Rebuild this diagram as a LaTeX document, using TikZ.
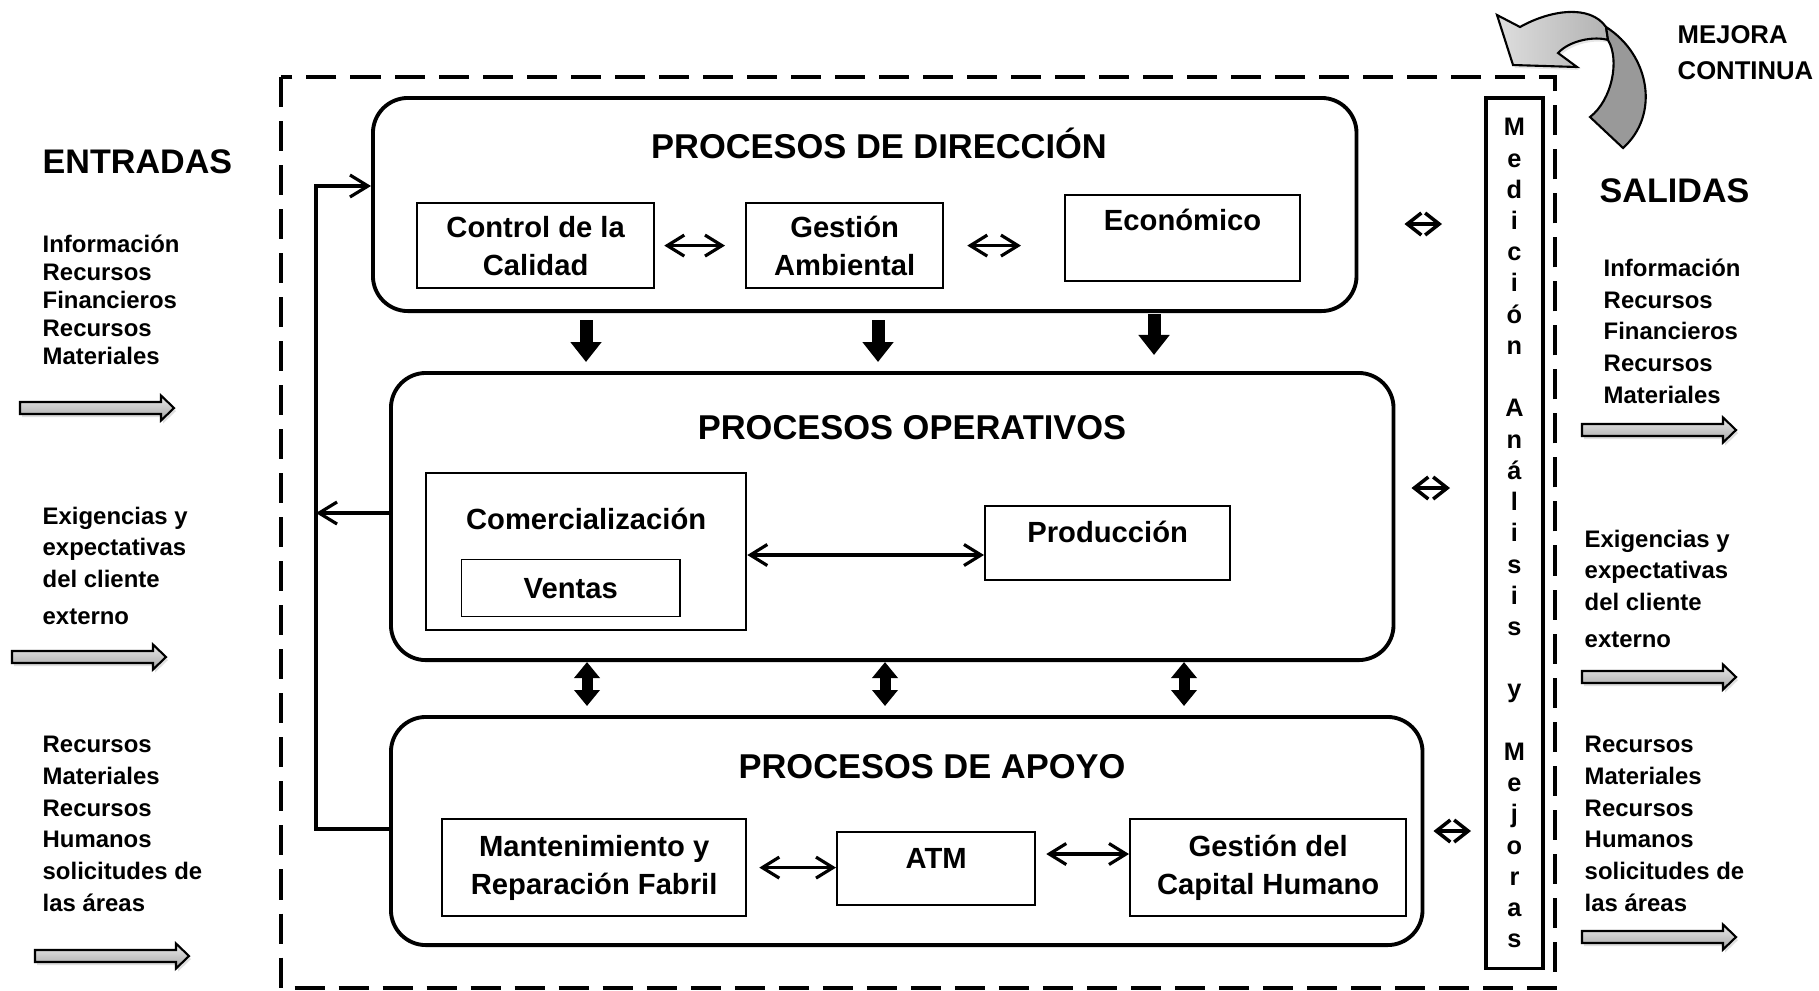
\documentclass[tikz,border=0pt]{standalone}
\usepackage{fontspec}
\setmainfont{Liberation Sans}
\usetikzlibrary{arrows.meta,calc,shadows}

\begin{document}
\begin{tikzpicture}[x=0.01cm, y=-0.01cm,
  proceso/.style={draw, line width=1.1pt, rounded corners=0.35cm, anchor=north west, inner sep=0pt},
  caja/.style={draw, line width=0.6pt, anchor=north west, align=center, inner sep=0pt,
    font=\fontsize{8.3}{10.8}\selectfont\bfseries},
  titulo/.style={anchor=base, inner sep=0pt, font=\fontsize{9.8}{11}\selectfont\bfseries},
  texto/.style={anchor=base, inner sep=0pt, font=\fontsize{8.3}{10.8}\selectfont\bfseries},
  encabezado/.style={anchor=base west, inner sep=0pt, align=left, font=\fontsize{9.7}{11}\selectfont\bfseries},
  lado/.style={anchor=base west, inner sep=0pt, align=left, font=\fontsize{6.8}{9}\selectfont\bfseries},
  flechita/.style={line width=0.9pt, {Straight Barb[length=0.17cm,width=0.21cm]}-{Straight Barb[length=0.17cm,width=0.21cm]}},
  lateral/.style={line width=1pt, {Straight Barb[length=0.14cm,width=0.22cm]}-{Straight Barb[length=0.14cm,width=0.22cm]}},
  retro/.style={line width=0.9pt, -{Straight Barb[length=0.18cm,width=0.22cm]}},
  bajada/.style={line width=0.13cm, -{Triangle[width=0.3cm,length=0.2cm]}},
  doble/.style={line width=0.11cm, {Triangle[width=0.25cm,length=0.16cm]}-{Triangle[width=0.25cm,length=0.16cm]}},
  flecha/.pic={
    \path[draw=black, line width=0.6pt, top color=black!8, bottom color=black!35,
      drop shadow={shadow xshift=0.02cm, shadow yshift=-0.03cm, opacity=0.25}]
      (0,-6) -- (141,-6) -- (141,-12.5) -- (154,0) -- (141,12.5) -- (141,6) -- (0,6) -- cycle;
  }
]
  \useasboundingbox (0,0) rectangle (1819,990);

  % marco
  \draw[line width=1.15pt, dash pattern=on 0.3cm off 0.14cm] (281,77) rectangle (1555,988);

  % mejora continua
  \path[draw=black, line width=0.6pt, left color=black!13, right color=black!30,
    drop shadow={shadow xshift=0.02cm, shadow yshift=-0.03cm, opacity=0.2}]
    (1497,15) -- (1520,27) .. controls (1550,10) and (1590,4) .. (1606,27)
    -- (1608,40) .. controls (1595,36) and (1570,40) .. (1558,53)
    -- (1577,67) -- (1513,65) -- cycle;
  \path[draw=black, line width=0.6pt, fill=black!40]
    (1606,27) .. controls (1650,55) and (1660,115) .. (1623,148)
    -- (1590,117) .. controls (1612,100) and (1620,60) .. (1608,40) -- cycle;
  \node[anchor=base west, inner sep=0pt, align=left, font=\fontsize{7.3}{9.96}\selectfont\bfseries]
    (mejora) at (1677,79) {MEJORA\\CONTINUA};

  % procesos
  \node[proceso, minimum width=9.83cm, minimum height=2.13cm] (dir) at (371,96) {};
  \node[proceso, minimum width=10.02cm, minimum height=2.87cm] (ope) at (389,371) {};
  \node[proceso, minimum width=10.31cm, minimum height=2.28cm] (apo) at (389,715) {};
  \node[titulo] (dirTxt) at (879,158) {PROCESOS DE DIRECCIÓN};
  \node[titulo] (opeTxt) at (912,439) {PROCESOS OPERATIVOS};
  \node[titulo] (apoTxt) at (932,778) {PROCESOS DE APOYO};

  % direccion
  \node[caja, minimum width=2.37cm, minimum height=0.85cm] (ctrl) at (416,202) {Control de la\\Calidad};
  \node[caja, minimum width=1.97cm, minimum height=0.85cm] (gest) at (745,202) {Gestión\\Ambiental};
  \node[caja, minimum width=2.35cm, minimum height=0.86cm] (eco) at (1064,194) {};
  \node[texto] (ecoTxt) at ($(eco.north)+(0,36)$) {Económico};
  \draw[flechita, shorten <=0.09cm, shorten >=0.2cm] (ctrl.east) -- (gest.west);
  \draw[flechita, shorten <=0.23cm, shorten >=0.43cm] (gest.east) -- (gest.east -| eco.west);

  % operativos
  \node[caja, minimum width=3.2cm, minimum height=1.57cm] (com) at (425,472) {};
  \node[texto] (comTxt) at ($(com.north)+(0,57)$) {Comercialización};
  \node[caja, line width=0.4pt, minimum width=2.18cm, minimum height=0.57cm] (ventas) at (461,559) {Ventas};
  \node[caja, minimum width=2.45cm, minimum height=0.74cm] (prod) at (984,505) {};
  \node[texto] (prodTxt) at ($(prod.north)+(0,37)$) {Producción};
  \draw[flechita] (com.east |- 0,555) -- (prod.west |- 0,555);

  % apoyo
  \node[caja, minimum width=3.04cm, minimum height=0.97cm] (mant) at (441,818) {Mantenimiento y\\Reparación Fabril};
  \node[caja, minimum width=1.98cm, minimum height=0.73cm] (atm) at (836,831) {};
  \node[texto] (atmTxt) at ($(atm.north)+(0,37)$) {ATM};
  \node[caja, minimum width=2.76cm, minimum height=0.97cm] (cap) at (1129,818) {Gestión del\\Capital Humano};
  \draw[flechita, shorten <=0.12cm] (mant.east) -- (mant.east -| atm.west);
  \draw[flechita, shorten <=0.1cm] (atm.east |- 0,854) -- (cap.west |- 0,854);

  % entre procesos
  \draw[bajada, shorten <=0.07cm, shorten >=0.09cm] (dir.south -| 586,0) -- (ope.north -| 586,0);
  \draw[bajada, shorten <=0.07cm, shorten >=0.09cm] (dir.south -| 878,0) -- (ope.north -| 878,0);
  \draw[bajada, shorten <=0.01cm, shorten >=0.16cm] (dir.south -| 1154,0) -- (ope.north -| 1154,0);
  \draw[doble, shorten >=0.09cm] (ope.south -| 587,0) -- (apo.north -| 587,0);
  \draw[doble, shorten >=0.09cm] (ope.south -| 885,0) -- (apo.north -| 885,0);
  \draw[doble, shorten >=0.09cm] (ope.south -| 1184,0) -- (apo.north -| 1184,0);

  % retroalimentacion
  \coordinate (esqA) at (316,186);
  \coordinate (esqB) at (316,829);
  \draw[retro] (apo.west |- esqB) -- (esqB) -- (esqA) -- (dir.west |- esqA);
  \draw[retro] (ope.west |- 0,513) -- (esqA |- 0,513);

  % medicion
  \node[draw, line width=1.1pt, anchor=north west, inner sep=0pt, align=center,
    minimum width=0.57cm, minimum height=8.7cm, font=\fontsize{7.2}{8.88}\selectfont\bfseries]
    (med) at (1484,96) {M\\e\\d\\i\\c\\i\\ó\\n\\~\\A\\n\\á\\l\\i\\s\\i\\s\\~\\y\\~\\M\\e\\j\\o\\r\\a\\s};
  \draw[lateral, shorten <=0.46cm, shorten >=0.42cm] (dir.east |- 0,224) -- (med.west |- 0,224);
  \draw[lateral, shorten <=0.16cm, shorten >=0.34cm] (ope.east |- 0,488) -- (med.west |- 0,488);
  \draw[lateral, shorten <=0.09cm, shorten >=0.13cm] (apo.east |- 0,831) -- (med.west |- 0,831);

  % entradas (base = ultima linea)
  \node[encabezado] (entradas) at (42,173) {ENTRADAS};
  \node[lado, font=\fontsize{6.8}{7.94}\selectfont\bfseries] (entInfo) at (42,364)
    {Información\\Recursos\\Financieros\\Recursos\\Materiales};
  \node[lado] (entExig) at (42,624) {Exigencias y\\expectativas\\del cliente\\[1.4pt]externo};
  \node[lado] (entRec) at (42,911) {Recursos\\Materiales\\Recursos\\Humanos\\solicitudes de\\las áreas};
  \pic at (20,408) {flecha};
  \pic at (12,657) {flecha};
  \pic at (35,956) {flecha};

  % salidas
  \node[encabezado] (salidas) at (1599,202) {SALIDAS};
  \node[lado] (salInfo) at (1603,403) {Información\\Recursos\\Financieros\\Recursos\\Materiales};
  \node[lado] (salExig) at (1584,647) {Exigencias y\\expectativas\\del cliente\\[1.4pt]externo};
  \node[lado] (salRec) at (1584,911) {Recursos\\Materiales\\Recursos\\Humanos\\solicitudes de\\las áreas};
  \pic at (1582,430) {flecha};
  \pic at (1582,677) {flecha};
  \pic at (1582,937) {flecha};
\end{tikzpicture}
\end{document}
